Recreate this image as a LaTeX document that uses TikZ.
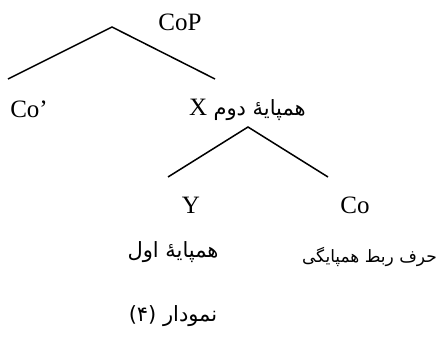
\documentclass[tikz,border=0pt]{standalone}
\usepackage{fontspec}
\setmainfont{Liberation Serif}
\newfontfamily\arabicfont[Script=Arabic]{DejaVu Sans}
\TeXXeTstate=1
\begin{document}
\begin{tikzpicture}[x=1pt,y=-1pt,
  lbl/.style={inner sep=0pt,font=\fontsize{25}{29}\selectfont},
  fa/.style={inner sep=0pt,font=\fontsize{21}{25}\selectfont\arabicfont},
  fasmall/.style={inner sep=0pt,font=\fontsize{17}{20}\selectfont\arabicfont},
  branch/.style={line width=1.5pt}]
\useasboundingbox (0,0) rectangle (438,356);
\node[lbl] (cop) at (180,22) {CoP};
\coordinate (a1) at (112,27);
\coordinate (l1) at (8,79);
\coordinate (r1) at (215,79);
\draw[branch] (l1) -- (a1) -- (r1);
\node[lbl] (cobar) at (29,109) {Co’};
\node[lbl,anchor=west] (x) at (189,110) {X \arabicfont\fontsize{21}{25}\selectfont\beginR همپایهٔ دوم\endR};
\coordinate (a2) at (248,127);
\coordinate (l2) at (168,177);
\coordinate (r2) at (328,177);
\draw[branch] (l2) -- (a2) -- (r2);
\node[lbl] (y) at (191,205) {Y};
\node[lbl] (co) at (355,205) {Co};
\node[fa] (first) at (173,252) {\beginR همپایهٔ اول\endR};
\node[fasmall,anchor=east] (conj) at (437,257) {\beginR حرف ربط همپایگی\endR};
\node[fa] (cap) at (173,316) {\beginR نمودار \beginL(۴)\endL\endR};
\end{tikzpicture}
\end{document}
